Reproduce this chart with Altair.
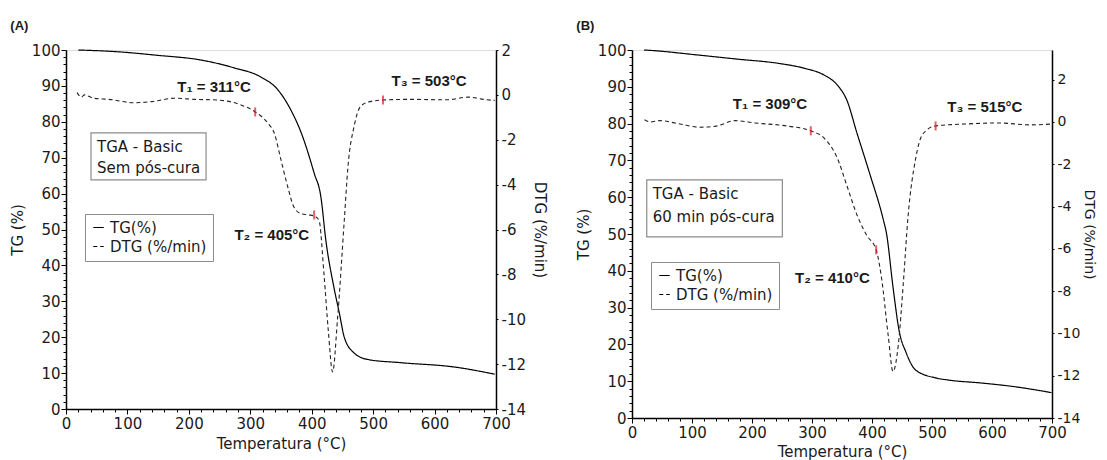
import altair as alt
import pandas as pd

# ---------------- data ----------------
A_TG_T = [20, 85, 150, 220, 274, 317, 345, 366, 383, 404, 415, 423, 436, 445, 453, 469, 491, 545, 632, 698]
A_TG = [100, 99.5, 98.5, 97.2, 95, 92.5, 88.9, 83.3, 76.9, 65.7, 59, 47, 34, 26.7, 20, 15.6, 13.8, 12.9, 11.7, 9.7]

A_DTG_T = [18, 25, 30, 45, 70, 111, 140, 176, 210, 247, 285, 308, 329, 339, 350, 361, 371, 383, 395, 404, 412,
           420, 427, 434, 442, 453, 459, 469, 480, 495, 516, 560, 620, 655, 680, 698]
A_DTG = [0.1, -0.1, 0.0, -0.15, -0.2, -0.35, -0.3, -0.15, -0.2, -0.23, -0.45, -0.76, -1.27, -1.7, -2.9, -4.1,
         -5.0, -5.3, -5.35, -5.4, -5.6, -8.0, -10.5, -12.35, -10.0, -5.6, -3.2, -1.4, -0.5, -0.3, -0.23, -0.2,
         -0.22, -0.1, -0.2, -0.25]

A_MK_T = [308, 404, 516]
A_MK_V = [-0.76, -5.35, -0.23]
A_LBL = ["T\u2081 = 311°C", "T\u2082 = 405°C", "T\u2083 = 503°C"]
A_LBL_T = [241, 335, 591]
A_LBL_V = [89.7, 48.5, 91.4]
A_BOX_TEXT = ["TGA - Basic", "Sem pós-cura"]

B_TG_T = [20, 30, 112, 177, 243, 288, 320, 342, 358, 375, 396, 419, 424, 435, 445, 457, 473, 506, 528, 583, 638, 699]
B_TG = [100, 99.9, 98.6, 97.5, 96.4, 95, 93.2, 90.5, 86.4, 77.4, 66.5, 53.8, 50.3, 35.6, 23.9, 17.7, 13.0, 10.9,
        10.3, 9.5, 8.5, 6.9]

B_DTG_T = [21, 30, 46, 80, 112, 140, 172, 205, 260, 298, 320, 342, 358, 375, 391, 407, 416, 427, 435, 444, 452,
           460, 473, 484, 506, 555, 610, 665, 699]
B_DTG = [0.1, 0.0, 0.06, -0.1, -0.25, -0.2, 0.06, -0.05, -0.2, -0.42, -0.76, -1.7, -3.0, -4.4, -5.35, -6.05,
         -7.4, -10.1, -11.8, -10.5, -7.7, -4.5, -1.7, -0.6, -0.19, -0.1, -0.05, -0.14, -0.1]

B_MK_T = [298, 407, 506]
B_MK_V = [-0.42, -6.05, -0.19]
B_LBL = ["T\u2081 = 309°C", "T\u2082 = 410°C", "T\u2083 = 515°C"]
B_LBL_T = [230, 334, 588]
B_LBL_V = [85.3, 38, 84.5]
B_BOX_TEXT = ["TGA - Basic", "60 min pós-cura"]

SERIES = ["TG(%)", "DTG (%/min)"]

FONT = "DejaVu Sans"
BOLD_FONT = "Liberation Sans"
LBL_SIZE = 15


# ---------------- axes ----------------
def x_enc(title_pad, field="T"):
    return alt.X(
        f"{field}:Q",
        scale=alt.Scale(domain=[0, 700], nice=False, zero=False),
        axis=alt.Axis(
            values=list(range(0, 701, 20)),
            labelExpr="datum.value % 100 === 0 ? datum.label : ''",
            ticks=True, tickWidth=1,
            tickSize={"condition": {"test": "datum.value % 100 === 0", "value": 5}, "value": 3},
            title="Temperatura (°C)", grid=False, labelFlush=False, labelOverlap=False,
            labelFont=FONT, labelFontSize=LBL_SIZE, titleFont=FONT, titleFontSize=15,
            titleFontWeight="normal", labelColor="#1a1a1a", titleColor="#1a1a1a",
            domainColor="black", domainWidth=1.5, tickColor="black", labelPadding=2,
            titlePadding=title_pad,
        ),
    )


def y_tg(field="v"):
    return alt.Y(
        f"{field}:Q",
        scale=alt.Scale(domain=[0, 100], nice=False, zero=False),
        axis=alt.Axis(
            values=list(range(0, 101, 2)),
            labelExpr="datum.value % 10 === 0 ? datum.label : ''",
            ticks=True, tickWidth=1,
            tickSize={"condition": {"test": "datum.value % 10 === 0", "value": 5}, "value": 3},
            title="TG (%)", grid=False, labelFlush=False, labelOverlap=False,
            labelFont=FONT, labelFontSize=LBL_SIZE, titleFont=FONT, titleFontSize=15,
            titleFontWeight="normal", labelColor="#1a1a1a", titleColor="#1a1a1a",
            domainColor="black", domainWidth=1.5, tickColor="black", labelPadding=1, titlePadding=6,
        ),
    )


def y_dtg(domain, title_pad, label_pad, lbl_size, title_size, field="v"):
    return alt.Y(
        f"{field}:Q",
        scale=alt.Scale(domain=domain, nice=False, zero=False),
        axis=alt.Axis(
            orient="right", values=list(range(-14, 3, 2)),
            labelExpr="datum.value < 0 ? '-' + format(-datum.value, 'd') : datum.label",
            title="DTG (%/min)", grid=False, labelFlush=False, labelOverlap=False,
            labelFont=FONT, labelFontSize=lbl_size, titleFont=FONT, titleFontSize=title_size,
            titleFontWeight="normal", labelColor="#1a1a1a", titleColor="#1a1a1a",
            domainColor="black", domainWidth=1.5, tickColor="black", tickSize=2,
            labelPadding=label_pad, titlePadding=title_pad,
        ),
    )


def panel(title, tg_t, tg, dtg_t, dtg, mk_t, mk_v, lbl, lbl_t, lbl_v, box_text, box, box_txt_pos,
          dtg_domain, legend_xy, width, height, x_title_pad, y2_style):
    tg_df = pd.DataFrame({"T": tg_t, "v": tg, "series": SERIES[0]})
    dtg_df = pd.DataFrame({"T": dtg_t, "v": dtg, "series": SERIES[1]})
    mk_df = pd.DataFrame({"T": mk_t, "v": mk_v})
    lbl_df = pd.DataFrame({"T": lbl_t, "v": lbl_v, "label": lbl})
    box_df = pd.DataFrame({"T": [box[0]], "T2": [box[1]], "v": [box[2]], "v2": [box[3]]})
    boxtxt_df = pd.DataFrame({"T": [box_txt_pos[0]] * 2, "v": box_txt_pos[1], "label": box_text})

    dash = alt.StrokeDash(
        "series:N",
        scale=alt.Scale(domain=SERIES, range=[[1, 0], [4, 3]]),
        legend=alt.Legend(
            orient="none", legendX=legend_xy[0], legendY=legend_xy[1], title=None,
            strokeColor="#8c8c8c", fillColor="white", padding=6,
            labelFont=FONT, labelFontSize=15, labelColor="#1a1a1a",
            symbolType="stroke", symbolStrokeColor="black", symbolStrokeWidth=1.2,
            symbolSize=110, rowPadding=3, labelOffset=4,
        ),
    )

    xe = lambda: x_enc(x_title_pad)
    ye2 = lambda: y_dtg(dtg_domain, *y2_style)
    tg_line = alt.Chart(tg_df).mark_line(color="black", strokeWidth=1.2, interpolate="monotone").encode(
        x=xe(), y=y_tg(), strokeDash=dash)
    box_rect = alt.Chart(box_df).mark_rect(fill="white", stroke="#8c8c8c", strokeWidth=1.2).encode(
        x=xe(), x2="T2:Q", y=y_tg(), y2="v2:Q")
    box_txt = alt.Chart(boxtxt_df).mark_text(align="left", baseline="middle", font=FONT, fontSize=15,
                                             color="#1a1a1a").encode(x=xe(), y=y_tg(), text="label:N")
    t_lbl = alt.Chart(lbl_df).mark_text(align="center", baseline="middle", font=BOLD_FONT, fontSize=15,
                                        fontWeight="bold", color="#1a1a1a").encode(
        x=xe(), y=y_tg(), text="label:N")

    dtg_line = alt.Chart(dtg_df).mark_line(color="#222", strokeWidth=1.1, interpolate="monotone").encode(
        x=xe(), y=ye2(), strokeDash=dash)
    marks = alt.Chart(mk_df).mark_tick(color="#e3141e", thickness=2, size=9, orient="vertical").encode(
        x=xe(), y=ye2())

    left = alt.layer(tg_line, box_rect, box_txt, t_lbl)
    right = alt.layer(dtg_line, marks)
    return alt.layer(left, right).resolve_scale(y="independent").properties(
        width=width, height=height,
        title=alt.Title(title, anchor="start", font=BOLD_FONT, fontSize=13, fontWeight="bold",
                        color="#1a1a1a", offset=10, frame="bounds"),
    )


pA = panel("(A)", A_TG_T, A_TG, A_DTG_T, A_DTG, A_MK_T, A_MK_V, A_LBL, A_LBL_T, A_LBL_V,
           A_BOX_TEXT, [40.7, 228, 76.9, 63.8], [50.5, [73, 67.1]], [-14, 2], [19, 164], 430, 359, 5,
           (6, 3, LBL_SIZE, 15))
pB = panel("(B)", B_TG_T, B_TG, B_DTG_T, B_DTG, B_MK_T, B_MK_V, B_LBL, B_LBL_T, B_LBL_V,
           B_BOX_TEXT, [24.6, 250.6, 64.7, 49.2], [34.5, [60.9, 54.6]], [-14, 3.4], [19, 212], 420, 368, 4,
           (2, 3, 14, 14))

chart = alt.hconcat(pA, pB, spacing=28).resolve_scale(
    strokeDash="independent", y="independent"
).resolve_legend(strokeDash="independent").properties(
    padding={"left": 9, "top": 19, "right": 0, "bottom": 0}
).configure_view(stroke="black", strokeWidth=1.5).configure(background="white")

chart.save("out.html", embed_options={"renderer": "svg", "actions": False})
